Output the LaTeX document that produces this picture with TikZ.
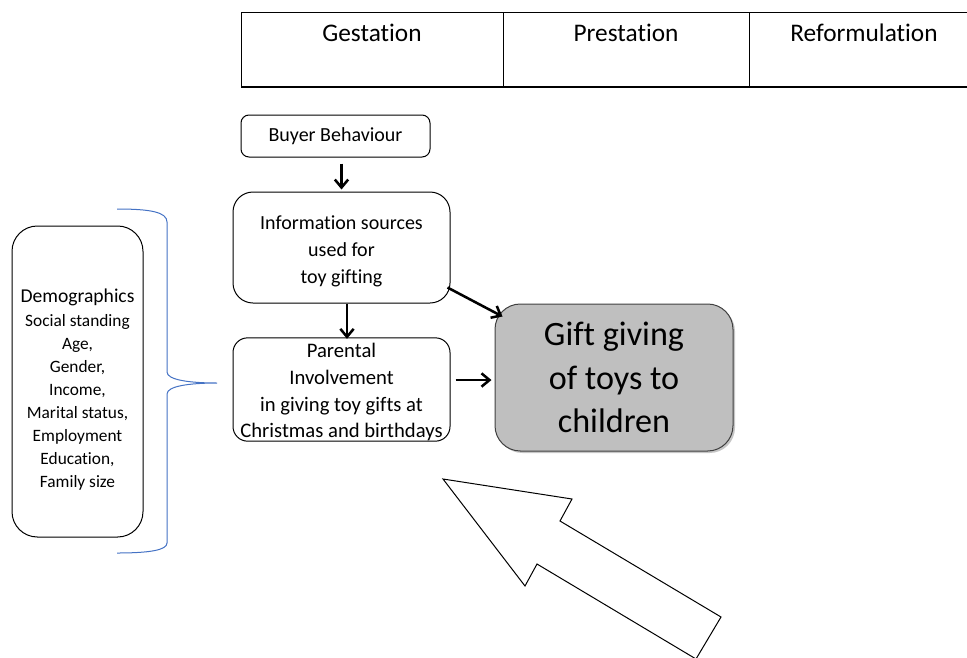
\documentclass[tikz,border=0pt]{standalone}
\usepackage{fontspec}
\setmainfont{Carlito}[Ligatures=NoCommon]
\usetikzlibrary{arrows.meta,calc,shadows}
\definecolor{bracecol}{HTML}{4472C4}
\definecolor{giftfill}{HTML}{BFBFBF}
\tikzset{
  box/.style={draw=black, line width=0.75pt, rounded corners=#1, fill=white,
    align=center, inner sep=0pt},
  head/.style={font=\fontsize{19}{23}\selectfont, anchor=center},
  arr/.style={draw=black, line width=1.9pt,
    -{Straight Barb[length=6pt,width=10pt,line width=1.9pt]}},
}
\begin{document}
\begin{tikzpicture}[x=0.75pt, y=-0.75pt]
\useasboundingbox (0,0) rectangle (967,657);

% phase table
\draw[line width=0.75pt] (967,12) -- (241,12) -- (241,87);
\draw[line width=0.75pt] (503,12) -- (503,87);
\draw[line width=0.75pt] (749,12) -- (749,87);
\draw[line width=1.6pt] (241,87) -- (967,87);
\node[head] (gest) at (372,33) {Gestation};
\node[head] (prest) at (626,33) {Prestation};
\node[head] (reform) at (864,33) {Reformulation};

% process boxes
\node[box=6pt, minimum width=141.75pt, minimum height=31.5pt,
  font=\fontsize{15}{19}\selectfont] (buyer) at (335.5,136) {Buyer Behaviour};
\node[box=15pt, minimum width=162.75pt, minimum height=83.25pt,
  font=\fontsize{15}{20}\selectfont] (info) at (341.5,247.5)
  {\rule{0pt}{16pt}Information sources\\used for\\toy gifting};
\node[box=11pt, minimum width=162.75pt, minimum height=77.25pt,
  font=\fontsize{15.5}{20}\selectfont] (parent) at (341.5,389.5)
  {\rule{0pt}{15pt}Parental\\Involvement\\in giving toy gifts at\\Christmas and birthdays};
\node[box=19pt, fill=giftfill, draw=black!75, minimum width=178.5pt,
  minimum height=110.25pt, font=\fontsize{25.6}{32.6}\selectfont,
  drop shadow={opacity=0.45, shadow xshift=1.5pt, shadow yshift=-1.5pt}]
  (gift) at (614,377.5) {Gift giving\\of toys to\\children};

% demographics
\node[box=19pt, minimum width=98.25pt, minimum height=233.25pt] (demobox)
  at (77.5,381.5) {};
\node[align=center, inner sep=0pt, font=\fontsize{13}{17.2}\selectfont]
  (demotext) at (77.5,389.5)
  {{\fontsize{14.7}{18}\selectfont Demographics}\\[0.6pt]
   Social standing\\Age,\\Gender,\\Income,\\Marital status,\\Employment\\Education,\\Family size};

% brace
\draw[bracecol, line width=0.75pt]
  (117,209) .. controls (150,209) and (167,212) .. (167,222) -- (167,372)
  .. controls (167,380) and (190,383) .. (217,383)
  .. controls (190,383) and (167,386) .. (167,394) -- (167,543)
  .. controls (167,550) and (150,553) .. (117,553);

% connectors
\draw[arr, shorten <=4.5pt, shorten >=1.5pt] (info.north |- buyer.south) -- (info.north);
\draw[arr] ($(info.south)+(5.5,0)$) -- ($(parent.north)+(5.5,1.5)$);
\draw[arr] ($(info.south east)+(-3,-16)$) -- ($(gift.north west)+(8,13)$);
\draw[arr] ($(parent.east)+(5,-9.5)$) -- ($(gift.west)+(-3,2.5)$);

% block arrow
\begin{scope}
\clip (0,0) rectangle (967,657);
\draw[line width=0.75pt, fill=white, line join=miter]
  (443,479) -- (572,499) -- (560,521) -- (721,617) -- (696,659)
  -- (537,564) -- (525,586) -- cycle;
\end{scope}
\end{tikzpicture}
\end{document}
